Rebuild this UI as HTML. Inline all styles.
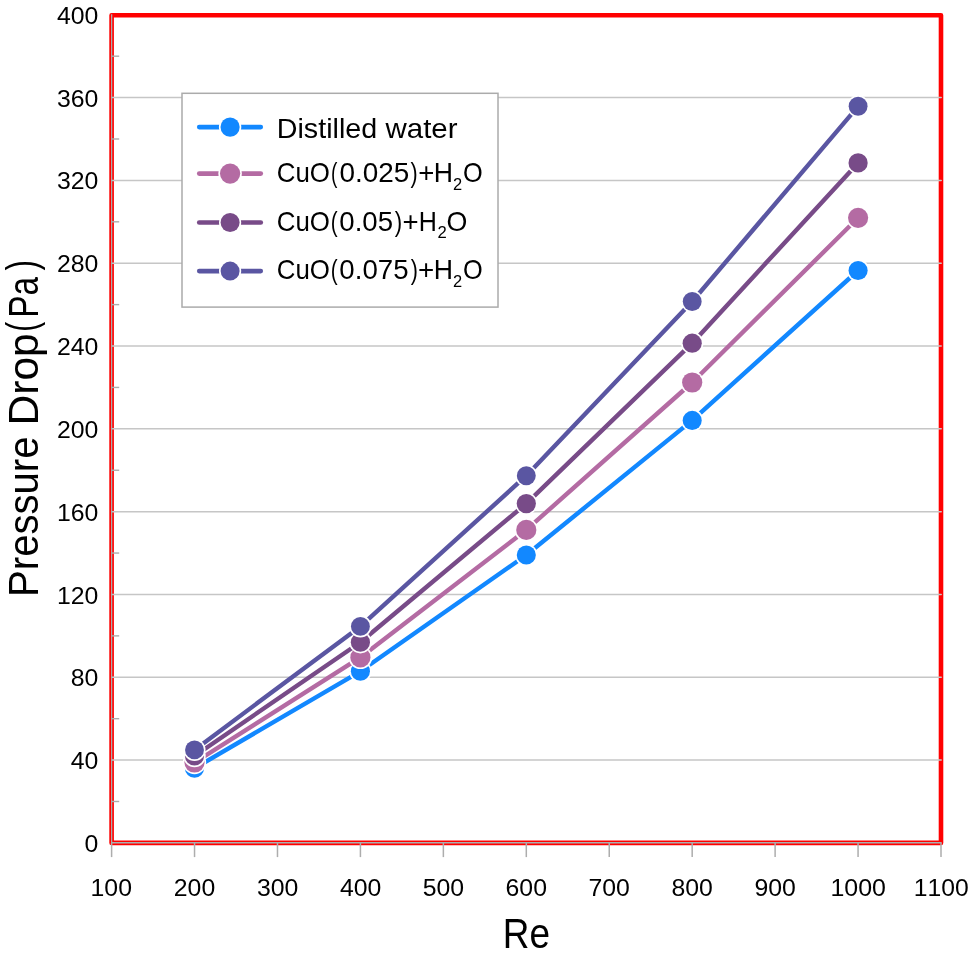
<!DOCTYPE html><html><head><meta charset="utf-8"><style>html,body{margin:0;padding:0;background:#fff;overflow:hidden;}svg{display:block;will-change:transform;}text{font-family:"Liberation Sans",sans-serif;fill:#000;font-kerning:none;}</style></head><body>
<svg width="969" height="962" viewBox="0 0 969 962">
<rect x="0" y="0" width="969" height="962" fill="#fff"/>
<rect x="111.60" y="15.30" width="829.40" height="827.60" fill="none" stroke="#ff0000" stroke-width="4.6" stroke-linejoin="round"/>
<line x1="111.60" y1="760.09" x2="941.20" y2="760.09" stroke="#c6c6c6" stroke-width="1.5" stroke-linecap="round"/>
<line x1="111.60" y1="677.28" x2="941.20" y2="677.28" stroke="#c6c6c6" stroke-width="1.5" stroke-linecap="round"/>
<line x1="111.60" y1="594.46" x2="941.20" y2="594.46" stroke="#c6c6c6" stroke-width="1.5" stroke-linecap="round"/>
<line x1="111.60" y1="511.65" x2="941.20" y2="511.65" stroke="#c6c6c6" stroke-width="1.5" stroke-linecap="round"/>
<line x1="111.60" y1="428.84" x2="941.20" y2="428.84" stroke="#c6c6c6" stroke-width="1.5" stroke-linecap="round"/>
<line x1="111.60" y1="346.03" x2="941.20" y2="346.03" stroke="#c6c6c6" stroke-width="1.5" stroke-linecap="round"/>
<line x1="111.60" y1="263.22" x2="941.20" y2="263.22" stroke="#c6c6c6" stroke-width="1.5" stroke-linecap="round"/>
<line x1="111.60" y1="180.40" x2="941.20" y2="180.40" stroke="#c6c6c6" stroke-width="1.5" stroke-linecap="round"/>
<line x1="111.60" y1="97.59" x2="941.20" y2="97.59" stroke="#c6c6c6" stroke-width="1.5" stroke-linecap="round"/>
<line x1="111.65" y1="14.30" x2="111.65" y2="842.90" stroke="#a9b1b1" stroke-width="1.25"/>
<line x1="111.60" y1="842.75" x2="941.70" y2="842.75" stroke="#a9b1b1" stroke-width="1.55"/>
<line x1="111.60" y1="801.49" x2="119.20" y2="801.49" stroke="#adadad" stroke-width="1.4"/>
<line x1="111.60" y1="718.68" x2="119.20" y2="718.68" stroke="#adadad" stroke-width="1.4"/>
<line x1="111.60" y1="635.87" x2="119.20" y2="635.87" stroke="#adadad" stroke-width="1.4"/>
<line x1="111.60" y1="553.06" x2="119.20" y2="553.06" stroke="#adadad" stroke-width="1.4"/>
<line x1="111.60" y1="470.25" x2="119.20" y2="470.25" stroke="#adadad" stroke-width="1.4"/>
<line x1="111.60" y1="387.43" x2="119.20" y2="387.43" stroke="#adadad" stroke-width="1.4"/>
<line x1="111.60" y1="304.62" x2="119.20" y2="304.62" stroke="#adadad" stroke-width="1.4"/>
<line x1="111.60" y1="221.81" x2="119.20" y2="221.81" stroke="#adadad" stroke-width="1.4"/>
<line x1="111.60" y1="139.00" x2="119.20" y2="139.00" stroke="#adadad" stroke-width="1.4"/>
<line x1="111.60" y1="56.19" x2="119.20" y2="56.19" stroke="#adadad" stroke-width="1.4"/>
<line x1="111.60" y1="842.90" x2="111.60" y2="857.10" stroke="#adadad" stroke-width="1.5"/>
<line x1="194.54" y1="842.90" x2="194.54" y2="857.10" stroke="#adadad" stroke-width="1.5"/>
<line x1="277.48" y1="842.90" x2="277.48" y2="857.10" stroke="#adadad" stroke-width="1.5"/>
<line x1="360.42" y1="842.90" x2="360.42" y2="857.10" stroke="#adadad" stroke-width="1.5"/>
<line x1="443.36" y1="842.90" x2="443.36" y2="857.10" stroke="#adadad" stroke-width="1.5"/>
<line x1="526.30" y1="842.90" x2="526.30" y2="857.10" stroke="#adadad" stroke-width="1.5"/>
<line x1="609.24" y1="842.90" x2="609.24" y2="857.10" stroke="#adadad" stroke-width="1.5"/>
<line x1="692.18" y1="842.90" x2="692.18" y2="857.10" stroke="#adadad" stroke-width="1.5"/>
<line x1="775.12" y1="842.90" x2="775.12" y2="857.10" stroke="#adadad" stroke-width="1.5"/>
<line x1="858.06" y1="842.90" x2="858.06" y2="857.10" stroke="#adadad" stroke-width="1.5"/>
<line x1="941.00" y1="842.90" x2="941.00" y2="857.10" stroke="#adadad" stroke-width="1.5"/>
<path d="M194.5,768.3 L360.4,671.3 L526.3,555.0 L692.2,420.4 L858.1,270.5" fill="none" stroke="#1288ff" stroke-width="4.4" stroke-linejoin="round" stroke-linecap="round"/>
<circle cx="194.5" cy="768.3" r="11.15" fill="#fff"/><circle cx="194.5" cy="768.3" r="9.55" fill="#1288ff"/>
<circle cx="360.4" cy="671.3" r="11.15" fill="#fff"/><circle cx="360.4" cy="671.3" r="9.55" fill="#1288ff"/>
<circle cx="526.3" cy="555.0" r="11.15" fill="#fff"/><circle cx="526.3" cy="555.0" r="9.55" fill="#1288ff"/>
<circle cx="692.2" cy="420.4" r="11.15" fill="#fff"/><circle cx="692.2" cy="420.4" r="9.55" fill="#1288ff"/>
<circle cx="858.1" cy="270.5" r="11.15" fill="#fff"/><circle cx="858.1" cy="270.5" r="9.55" fill="#1288ff"/>
<path d="M194.5,762.5 L360.4,657.4 L526.3,529.9 L692.2,382.5 L858.1,217.8" fill="none" stroke="#b46ba3" stroke-width="4.4" stroke-linejoin="round" stroke-linecap="round"/>
<circle cx="194.5" cy="762.5" r="11.7" fill="#fff"/><circle cx="194.5" cy="762.5" r="10.1" fill="#b46ba3"/>
<circle cx="360.4" cy="657.4" r="11.7" fill="#fff"/><circle cx="360.4" cy="657.4" r="10.1" fill="#b46ba3"/>
<circle cx="526.3" cy="529.9" r="11.7" fill="#fff"/><circle cx="526.3" cy="529.9" r="10.1" fill="#b46ba3"/>
<circle cx="692.2" cy="382.5" r="11.7" fill="#fff"/><circle cx="692.2" cy="382.5" r="10.1" fill="#b46ba3"/>
<circle cx="858.1" cy="217.8" r="11.7" fill="#fff"/><circle cx="858.1" cy="217.8" r="10.1" fill="#b46ba3"/>
<path d="M194.5,756.0 L360.4,642.2 L526.3,503.6 L692.2,343.2 L858.1,162.9" fill="none" stroke="#784b88" stroke-width="4.4" stroke-linejoin="round" stroke-linecap="round"/>
<circle cx="194.5" cy="756.0" r="11.2" fill="#fff"/><circle cx="194.5" cy="756.0" r="9.6" fill="#784b88"/>
<circle cx="360.4" cy="642.2" r="11.2" fill="#fff"/><circle cx="360.4" cy="642.2" r="9.6" fill="#784b88"/>
<circle cx="526.3" cy="503.6" r="11.2" fill="#fff"/><circle cx="526.3" cy="503.6" r="9.6" fill="#784b88"/>
<circle cx="692.2" cy="343.2" r="11.2" fill="#fff"/><circle cx="692.2" cy="343.2" r="9.6" fill="#784b88"/>
<circle cx="858.1" cy="162.9" r="11.2" fill="#fff"/><circle cx="858.1" cy="162.9" r="9.6" fill="#784b88"/>
<path d="M194.5,749.9 L360.4,626.4 L526.3,475.7 L692.2,301.5 L858.1,106.3" fill="none" stroke="#5a56a2" stroke-width="4.4" stroke-linejoin="round" stroke-linecap="round"/>
<circle cx="194.5" cy="749.9" r="11.049999999999999" fill="#fff"/><circle cx="194.5" cy="749.9" r="9.45" fill="#5a56a2"/>
<circle cx="360.4" cy="626.4" r="11.049999999999999" fill="#fff"/><circle cx="360.4" cy="626.4" r="9.45" fill="#5a56a2"/>
<circle cx="526.3" cy="475.7" r="11.049999999999999" fill="#fff"/><circle cx="526.3" cy="475.7" r="9.45" fill="#5a56a2"/>
<circle cx="692.2" cy="301.5" r="11.049999999999999" fill="#fff"/><circle cx="692.2" cy="301.5" r="9.45" fill="#5a56a2"/>
<circle cx="858.1" cy="106.3" r="11.049999999999999" fill="#fff"/><circle cx="858.1" cy="106.3" r="9.45" fill="#5a56a2"/>
<rect x="182" y="93.3" width="316" height="213.8" fill="#fff" stroke="#ababab" stroke-width="1.5"/>
<line x1="199.2" y1="127.1" x2="260.8" y2="127.1" stroke="#1288ff" stroke-width="4.6" stroke-linecap="round"/>
<circle cx="230.1" cy="127.1" r="11.2" fill="#fff"/><circle cx="230.1" cy="127.1" r="9.6" fill="#1288ff"/>
<line x1="199.2" y1="173.6" x2="260.8" y2="173.6" stroke="#b46ba3" stroke-width="4.6" stroke-linecap="round"/>
<circle cx="230.1" cy="173.6" r="11.75" fill="#fff"/><circle cx="230.1" cy="173.6" r="10.15" fill="#b46ba3"/>
<line x1="199.2" y1="222.5" x2="260.8" y2="222.5" stroke="#784b88" stroke-width="4.6" stroke-linecap="round"/>
<circle cx="230.1" cy="222.5" r="11.1" fill="#fff"/><circle cx="230.1" cy="222.5" r="9.5" fill="#784b88"/>
<line x1="199.2" y1="271.1" x2="260.8" y2="271.1" stroke="#5a56a2" stroke-width="4.6" stroke-linecap="round"/>
<circle cx="230.1" cy="271.1" r="11.1" fill="#fff"/><circle cx="230.1" cy="271.1" r="9.5" fill="#5a56a2"/>
<text transform="translate(276.75,137.90) scale(1.0144,1)" font-size="28.3">Distilled</text>
<text transform="translate(385.54,137.90) scale(1.0411,1)" font-size="28.3">water</text>
<text transform="translate(276.79,181.90) scale(0.9134,1)" font-size="28.3">CuO</text>
<text transform="translate(331.11,181.90) scale(0.6797,1)" font-size="28.3">(</text>
<text transform="translate(339.41,181.90) scale(0.9865,1)" font-size="28.3">0.025</text>
<text transform="translate(410.57,181.90) scale(0.7597,1)" font-size="28.3">)</text>
<text transform="translate(418.15,181.90) scale(0.9746,1)" font-size="28.3">+</text>
<text transform="translate(433.81,181.90) scale(0.9425,1)" font-size="28.3">H</text>
<text transform="translate(452.97,189.90) scale(0.9741,1)" font-size="16.9">2</text>
<text transform="translate(462.90,181.90) scale(0.8955,1)" font-size="28.3">O</text>
<text transform="translate(276.79,230.90) scale(0.9134,1)" font-size="28.3">CuO</text>
<text transform="translate(330.71,230.90) scale(0.7330,1)" font-size="28.3">(</text>
<text transform="translate(339.32,230.90) scale(0.9756,1)" font-size="28.3">0.05</text>
<text transform="translate(394.87,230.90) scale(0.7863,1)" font-size="28.3">)</text>
<text transform="translate(402.45,230.90) scale(0.9746,1)" font-size="28.3">+</text>
<text transform="translate(418.74,230.90) scale(0.8856,1)" font-size="28.3">H</text>
<text transform="translate(437.46,237.90) scale(0.9871,1)" font-size="16.9">2</text>
<text transform="translate(446.53,230.90) scale(0.9473,1)" font-size="28.3">O</text>
<text transform="translate(276.79,278.80) scale(0.9134,1)" font-size="28.3">CuO</text>
<text transform="translate(330.71,278.80) scale(0.7330,1)" font-size="28.3">(</text>
<text transform="translate(339.32,278.80) scale(0.9777,1)" font-size="28.3">0.075</text>
<text transform="translate(410.87,278.80) scale(0.7597,1)" font-size="28.3">)</text>
<text transform="translate(418.04,278.80) scale(0.9819,1)" font-size="28.3">+</text>
<text transform="translate(433.81,278.80) scale(0.9425,1)" font-size="28.3">H</text>
<text transform="translate(452.97,287.00) scale(0.9741,1)" font-size="16.9">2</text>
<text transform="translate(462.90,278.80) scale(0.8955,1)" font-size="28.3">O</text>
<text x="84.48" y="851.98" font-size="24.8">0</text>
<text x="70.68" y="769.17" font-size="24.8">40</text>
<text x="70.68" y="686.36" font-size="24.8">80</text>
<text x="56.89" y="603.55" font-size="24.8">120</text>
<text x="56.89" y="520.73" font-size="24.8">160</text>
<text x="56.89" y="437.92" font-size="24.8">200</text>
<text x="56.89" y="355.11" font-size="24.8">240</text>
<text x="56.89" y="272.30" font-size="24.8">280</text>
<text x="56.89" y="189.49" font-size="24.8">320</text>
<text x="56.89" y="106.67" font-size="24.8">360</text>
<text x="56.89" y="23.86" font-size="24.8">400</text>
<text x="90.55" y="896.00" font-size="24.8">100</text>
<text x="173.81" y="896.00" font-size="24.8">200</text>
<text x="256.90" y="896.00" font-size="24.8">300</text>
<text x="340.03" y="896.00" font-size="24.8">400</text>
<text x="422.76" y="896.00" font-size="24.8">500</text>
<text x="505.57" y="896.00" font-size="24.8">600</text>
<text x="588.50" y="896.00" font-size="24.8">700</text>
<text x="671.54" y="896.00" font-size="24.8">800</text>
<text x="754.43" y="896.00" font-size="24.8">900</text>
<text transform="translate(830.40,896.00) scale(1.0055,1)" font-size="24.8">1000</text>
<text transform="translate(913.72,896.00) scale(0.9959,1)" font-size="24.8">1100</text>
<text transform="translate(502.77,948.20) scale(0.8702,1)" font-size="42.4">Re</text>
<text transform="translate(37.70,596.99) rotate(-90) scale(0.9398,1)" font-size="42.7">Pressure</text>
<text transform="translate(37.70,425.38) rotate(-90) scale(0.9948,1)" font-size="42.7">Drop</text>
<text transform="translate(35.84,331.77) rotate(-90) scale(0.7066,1)" font-size="42.7">(</text>
<text transform="translate(37.70,317.75) rotate(-90) scale(0.7840,1)" font-size="42.7">Pa</text>
<text transform="translate(35.84,270.49) rotate(-90) scale(0.7420,1)" font-size="42.7">)</text>
</svg></body></html>
